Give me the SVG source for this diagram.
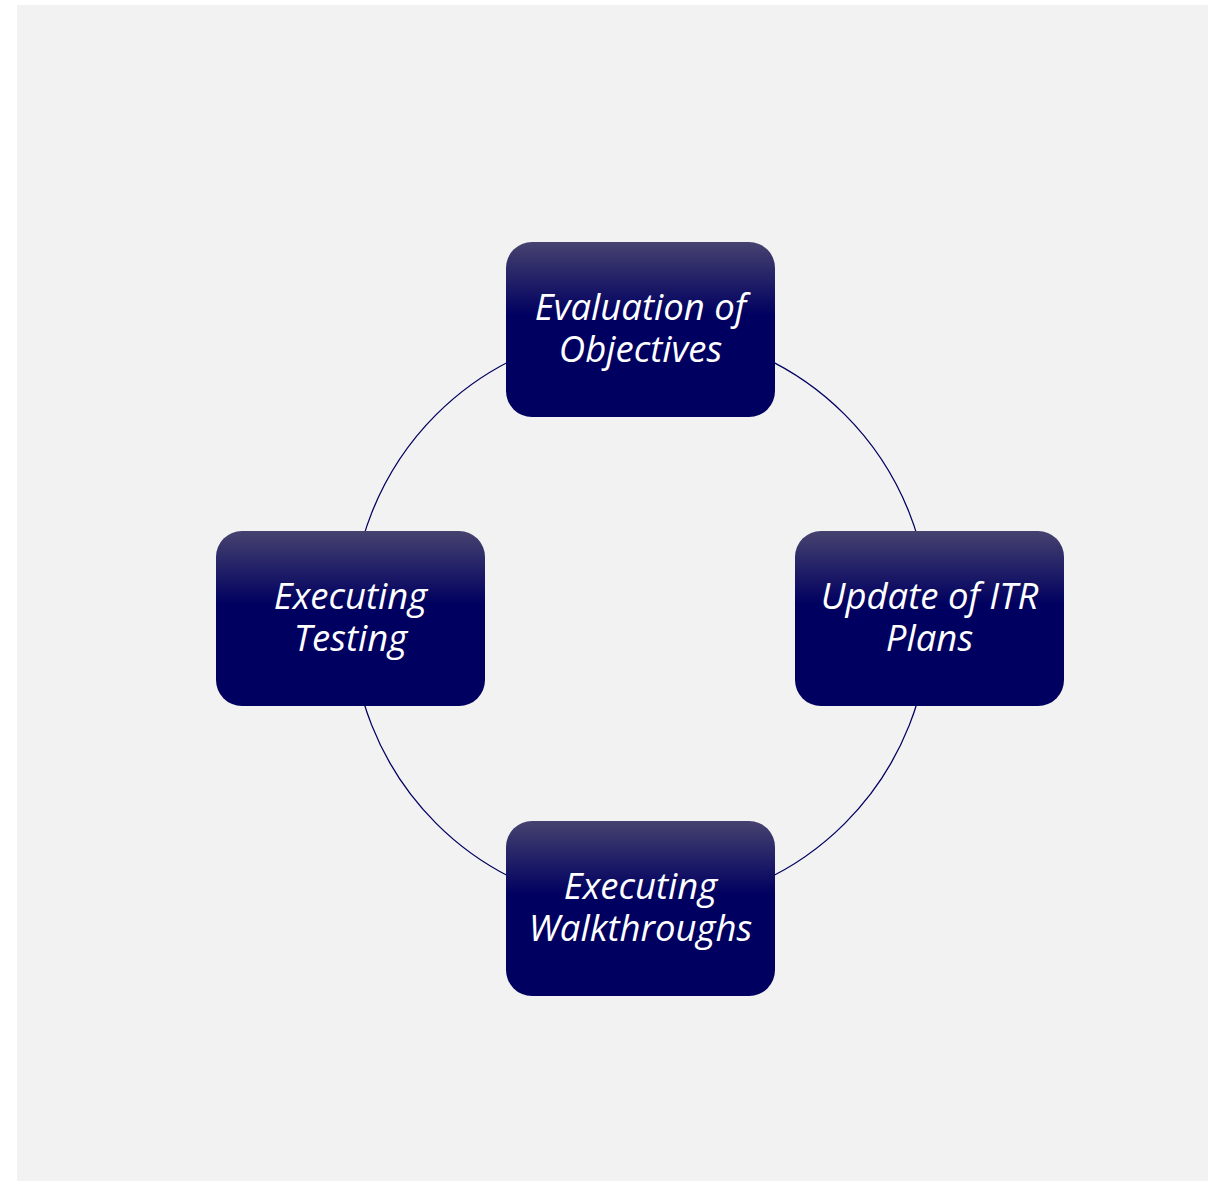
<svg xmlns="http://www.w3.org/2000/svg" width="1222" height="1182" viewBox="0 0 1222 1182">
<style>
.box{fill:url(#g)}
.t{font-family:"Open Sans","Noto Sans",sans-serif;font-style:italic;font-size:36.5px;fill:#ffffff;text-anchor:middle}
.c{fill:none;stroke:#000060;stroke-width:1.3}
</style>
<defs>
<linearGradient id="g" x1="0" y1="0" x2="0" y2="1">
<stop offset="0" stop-color="#46426f"/>
<stop offset="0.42" stop-color="#000060"/>
<stop offset="1" stop-color="#000060"/>
</linearGradient>
</defs>
<rect x="17" y="5" width="1191" height="1176" fill="#f2f2f2"/>
<g id="connectors">
<circle class="c" cx="640.5" cy="619" r="289"/>
</g>
<g id="n1">
<rect class="box" x="506" y="242" width="269" height="175" rx="26"/>
<text class="t" x="640.5" y="320">Evaluation of</text>
<text class="t" x="640.5" y="362">Objectives</text>
</g>
<g id="n2">
<rect class="box" x="795" y="531" width="269" height="175" rx="26"/>
<text class="t" x="929.5" y="609">Update of ITR</text>
<text class="t" x="929.5" y="651">Plans</text>
</g>
<g id="n3">
<rect class="box" x="506" y="821" width="269" height="175" rx="26"/>
<text class="t" x="640.5" y="899">Executing</text>
<text class="t" x="640.5" y="941">Walkthroughs</text>
</g>
<g id="n4">
<rect class="box" x="216" y="531" width="269" height="175" rx="26"/>
<text class="t" x="350.5" y="609">Executing</text>
<text class="t" x="350.5" y="651">Testing</text>
</g>
</svg>
